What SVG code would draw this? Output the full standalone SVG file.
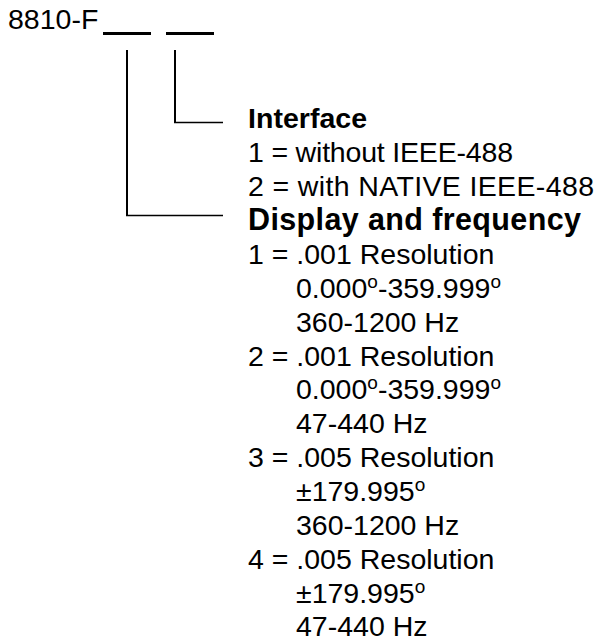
<svg xmlns="http://www.w3.org/2000/svg" width="597" height="642" viewBox="0 0 597 642">
<style>
text{font-family:"Liberation Sans",Arial,sans-serif;font-size:28.5px;fill:#000}
.b{font-weight:bold}
.sup{font-size:19px}
.ln{stroke:#000;fill:none}
</style>
<rect width="597" height="642" fill="#fff"/>
<g id="code">
<text x="8" y="29">8810-F</text>
<rect x="103" y="32" width="48" height="3" fill="#000"/>
<rect x="166" y="32" width="48" height="3" fill="#000"/>
</g>
<g id="connectors">
<path class="ln" stroke-width="2" d="M127 50V216"/>
<path class="ln" stroke-width="1.3" d="M126 215.5H223"/>
<path class="ln" stroke-width="2" d="M175 50V123"/>
<path class="ln" stroke-width="1.3" d="M174 122.5H223"/>
</g>
<g id="interface">
<text class="b" x="248" y="128" textLength="119">Interface</text>
<text x="248" y="162" textLength="265">1 = without IEEE-488</text>
<text x="248" y="196" textLength="346">2 = with NATIVE IEEE-488</text>
</g>
<g id="display">
<text class="b" x="248" y="230" style="font-size:30.5px" textLength="333">Display and frequency</text>
<text x="248" y="264">1 = .001 Resolution</text>
<text x="296" y="298">0.000<tspan class="sup" dy="-10.5">o</tspan><tspan dy="10.5">-359.999</tspan><tspan class="sup" dy="-10.5">o</tspan></text>
<text x="296" y="332">360-1200 Hz</text>
<text x="248" y="366">2 = .001 Resolution</text>
<text x="296" y="399">0.000<tspan class="sup" dy="-10.5">o</tspan><tspan dy="10.5">-359.999</tspan><tspan class="sup" dy="-10.5">o</tspan></text>
<text x="296" y="433">47-440 Hz</text>
<text x="248" y="467">3 = .005 Resolution</text>
<text x="296" y="501">±179.995<tspan class="sup" dy="-10.5">o</tspan></text>
<text x="296" y="535">360-1200 Hz</text>
<text x="248" y="569">4 = .005 Resolution</text>
<text x="296" y="603">±179.995<tspan class="sup" dy="-10.5">o</tspan></text>
<text x="296" y="636">47-440 Hz</text>
</g>
</svg>
